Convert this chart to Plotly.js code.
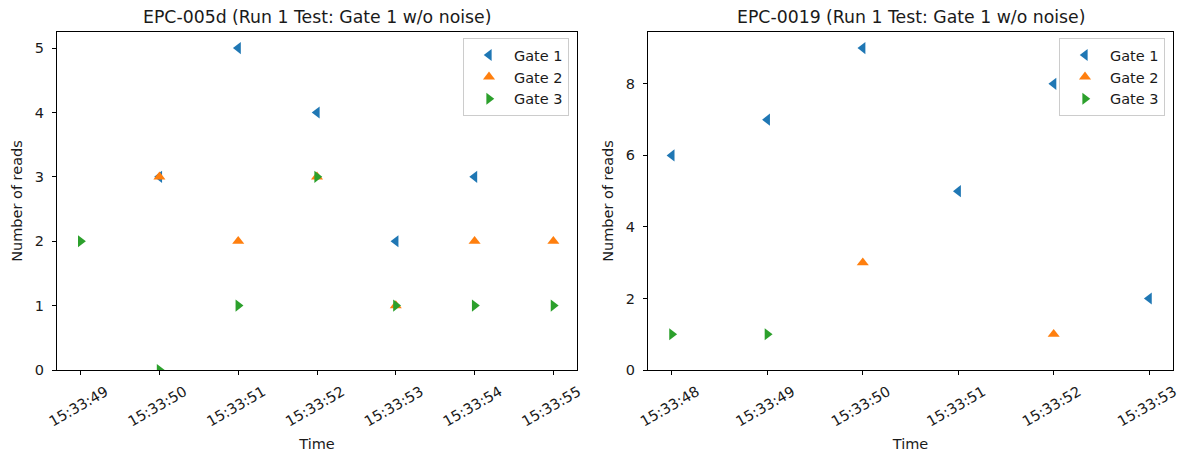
<!DOCTYPE html>
<html>
<head>
<meta charset="utf-8">
<script src="https://cdn.plot.ly/plotly-3.0.1.min.js"></script>
<style>html,body{margin:0;padding:0;background:#fff;}#chart{width:1183px;height:453px;}</style>
</head>
<body>
<div id="chart"></div>
<script>
// ---- Data ----
const DAY = '2022-01-01 ';
const seriesNames = ['Gate 1', 'Gate 2', 'Gate 3'];

// Left panel: EPC-005d
const titleLeft = 'EPC-005d (Run 1 Test: Gate 1 w/o noise)';
const leftGate1Time = ['15:33:50', '15:33:51', '15:33:52', '15:33:53', '15:33:54'];
const leftGate1Reads = [3, 5, 4, 2, 3];
const leftGate2Time = ['15:33:50', '15:33:51', '15:33:52', '15:33:53', '15:33:54', '15:33:55'];
const leftGate2Reads = [3, 2, 3, 1, 2, 2];
const leftGate3Time = ['15:33:49', '15:33:50', '15:33:51', '15:33:52', '15:33:53', '15:33:54', '15:33:55'];
const leftGate3Reads = [2, 0, 1, 3, 1, 1, 1];

// Right panel: EPC-0019
const titleRight = 'EPC-0019 (Run 1 Test: Gate 1 w/o noise)';
const rightGate1Time = ['15:33:48', '15:33:49', '15:33:50', '15:33:51', '15:33:52', '15:33:53'];
const rightGate1Reads = [6, 7, 9, 5, 8, 2];
const rightGate2Time = ['15:33:50', '15:33:52'];
const rightGate2Reads = [3, 1];
const rightGate3Time = ['15:33:48', '15:33:49'];
const rightGate3Reads = [1, 1];

const xTitle = 'Time';
const yTitle = 'Number of reads';

// ---- Styling ----
const colors = ['#1f77b4', '#ff7f0e', '#2ca02c'];
const symbols = ['triangle-left', 'triangle-up', 'triangle-right'];
const FONT = 'DejaVu Sans, sans-serif';
const TXT = '#1a1a1a';

function toDate(t) { return DAY + t; }
function secs(t) { const p = t.split(':').map(Number); return p[0]*3600 + p[1]*60 + p[2]; }
function fmt(s) {
  const h = Math.floor(s/3600), m = Math.floor((s - h*3600)/60), sec = s - h*3600 - m*60;
  const pad = v => String(v).padStart(2, '0');
  const si = Math.floor(sec), ms = Math.round((sec - si)*1000);
  return DAY + pad(h) + ':' + pad(m) + ':' + pad(si) + '.' + String(ms).padStart(3, '0');
}
function xRange(times) {
  const s = times.map(secs);
  const lo = Math.min(...s), hi = Math.max(...s), pad = (hi - lo) * 0.05;
  return [fmt(lo - pad), fmt(hi + pad)];
}
function yRange(vals) { return [0, Math.max(...vals) * 1.05]; }

function mk(times, reads, i, xa, ya, leg) {
  return {
    type: 'scatter', mode: 'markers', name: seriesNames[i],
    x: times.map(toDate), y: reads, xaxis: xa, yaxis: ya, legend: leg,
    marker: {symbol: symbols[i], color: colors[i], size: 10.5, line: {width: 0}}
  };
}

const traces = [
  mk(leftGate1Time, leftGate1Reads, 0, 'x', 'y', 'legend'),
  mk(leftGate2Time, leftGate2Reads, 1, 'x', 'y', 'legend'),
  mk(leftGate3Time, leftGate3Reads, 2, 'x', 'y', 'legend'),
  mk(rightGate1Time, rightGate1Reads, 0, 'x2', 'y2', 'legend2'),
  mk(rightGate2Time, rightGate2Reads, 1, 'x2', 'y2', 'legend2'),
  mk(rightGate3Time, rightGate3Reads, 2, 'x2', 'y2', 'legend2')
];

const tickFont = {family: FONT, size: 14.5, color: TXT};
function xAxis(domain, times, anchor) {
  return {
    domain: domain, anchor: anchor, type: 'date', range: xRange(times),
    tickformat: '%H:%M:%S', dtick: 1000, tickangle: -30,
    ticks: 'outside', ticklen: 4, tickwidth: 1, tickcolor: '#000',
    showline: true, linecolor: '#000', linewidth: 1, mirror: true,
    showgrid: false, zeroline: false, tickfont: tickFont,
    ticklabelshift: 25, ticklabelstandoff: 3, ticklabeloverflow: 'allow',
    title: {text: xTitle, font: {family: FONT, size: 14.5, color: TXT}, standoff: 10}
  };
}
function yAxis(range, dtick, anchor) {
  return {
    anchor: anchor, range: range, dtick: dtick,
    ticks: 'outside', ticklen: 4, tickwidth: 1, tickcolor: '#000',
    showline: true, linecolor: '#000', linewidth: 1, mirror: true,
    showgrid: false, zeroline: false, tickfont: tickFont,
    ticklabelstandoff: 5,
    title: {text: yTitle, font: {family: FONT, size: 14.5, color: TXT}, standoff: 8}
  };
}

const W = 1183, H = 453, ML = 57, MR = 10, MT = 32, MB = 83;
const PW = W - ML - MR;
const leftDom = [0, (577 - ML) / PW];
const rightDom = [(648 - ML) / PW, 1];
const legendStyle = {
  font: {family: FONT, size: 14.5, color: TXT},
  bgcolor: 'rgba(255,255,255,0.8)', bordercolor: '#cccccc', borderwidth: 1,
  xanchor: 'right', yanchor: 'top', y: 0.982, itemwidth: 40
};

const layout = {
  width: W, height: H,
  margin: {l: ML, r: MR, t: MT, b: MB},
  paper_bgcolor: '#fff', plot_bgcolor: '#fff',
  font: {family: FONT, color: TXT},
  xaxis: xAxis(leftDom, leftGate3Time, 'y'),
  yaxis: yAxis(yRange(leftGate1Reads), 1, 'x'),
  xaxis2: xAxis(rightDom, rightGate1Time, 'y2'),
  yaxis2: yAxis(yRange(rightGate1Reads), 2, 'x2'),
  legend: Object.assign({}, legendStyle, {x: leftDom[1] - 8 / PW}),
  legend2: Object.assign({}, legendStyle, {x: 1 - 8 / PW}),
  annotations: [
    {text: titleLeft, xref: 'paper', yref: 'paper', x: (leftDom[0] + leftDom[1]) / 2, y: 1, yshift: 3,
     xanchor: 'center', yanchor: 'bottom', showarrow: false, font: {family: FONT, size: 17.3, color: TXT}},
    {text: titleRight, xref: 'paper', yref: 'paper', x: (rightDom[0] + rightDom[1]) / 2, y: 1, yshift: 3,
     xanchor: 'center', yanchor: 'bottom', showarrow: false, font: {family: FONT, size: 17.3, color: TXT}}
  ]
};

Plotly.newPlot('chart', traces, layout, {displayModeBar: false, staticPlot: true});
</script>
</body>
</html>
